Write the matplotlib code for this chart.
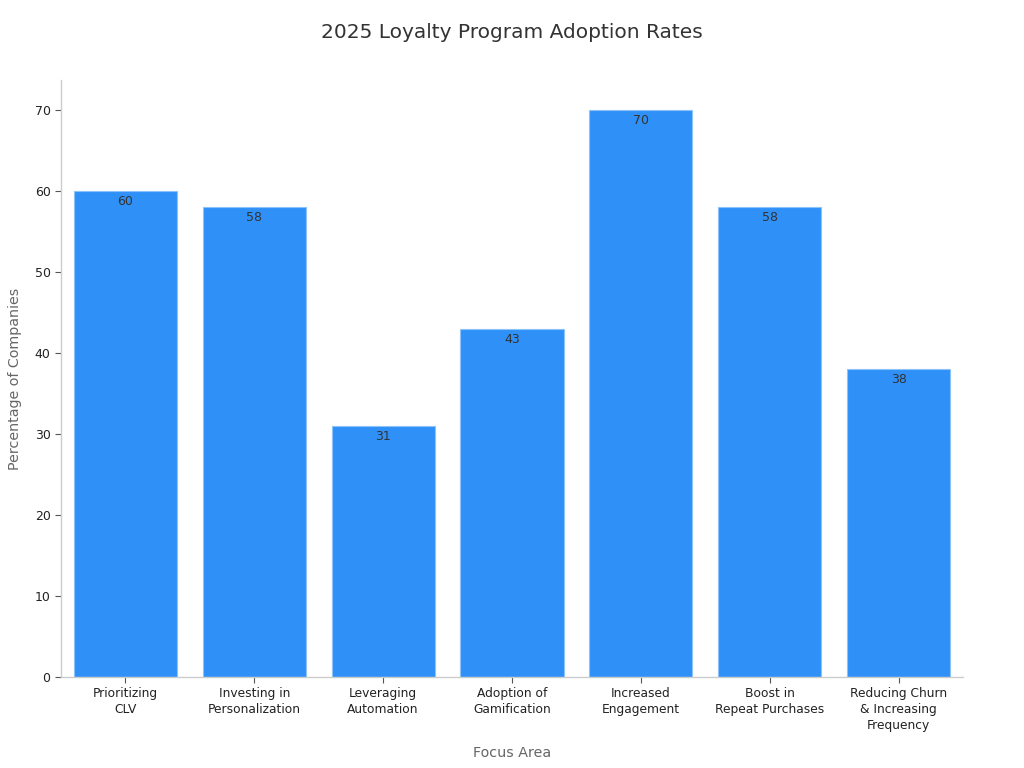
import matplotlib
matplotlib.use("Agg")
import matplotlib.pyplot as plt

categories = ["Prioritizing\nCLV", "Investing in\nPersonalization", "Leveraging\nAutomation",
              "Adoption of\nGamification", "Increased\nEngagement", "Boost in\nRepeat Purchases",
              "Reducing Churn\n& Increasing\nFrequency"]
values = [60, 58, 31, 43, 70, 58, 38]
yticks = [0, 10, 20, 30, 40, 50, 60, 70]

fig = plt.figure(figsize=(10.24, 7.68), dpi=100)
ax = fig.add_axes([0.0596, 0.1185, 0.8808, 0.7773])

x = list(range(len(categories)))
bars = ax.bar(x, values, width=0.8, color="#2f91f8", edgecolor="#8cc3fb", linewidth=0.8)
for b, v in zip(bars, values):
    ax.text(b.get_x() + b.get_width() / 2, v - 0.5, str(v), ha="center", va="top",
            fontsize=9, color="#333333")

ax.set_xlim(-0.5, 6.5)
ax.set_ylim(0, 73.7)
ax.set_xticks(x)
ax.set_xticklabels(categories, fontsize=8.8, color="#222222", linespacing=1.3)
ax.set_yticks(yticks)
ax.set_yticklabels([str(t) for t in yticks], fontsize=9, color="#222222")
ax.tick_params(axis="both", colors="#555555", length=4, width=0.8, labelcolor="#222222")
for s in ["top", "right"]:
    ax.spines[s].set_visible(False)
for s in ["left", "bottom"]:
    ax.spines[s].set_color("#cccccc")
    ax.spines[s].set_linewidth(1.0)

ax.set_xlabel("Focus Area", fontsize=10.3, color="#666666", labelpad=10)
ax.set_ylabel("Percentage of Companies", fontsize=10.3, color="#666666", labelpad=9)
fig.suptitle("2025 Loyalty Program Adoption Rates", fontsize=14.5, color="#333333", y=0.97)

fig.savefig("out.png", dpi=100)
